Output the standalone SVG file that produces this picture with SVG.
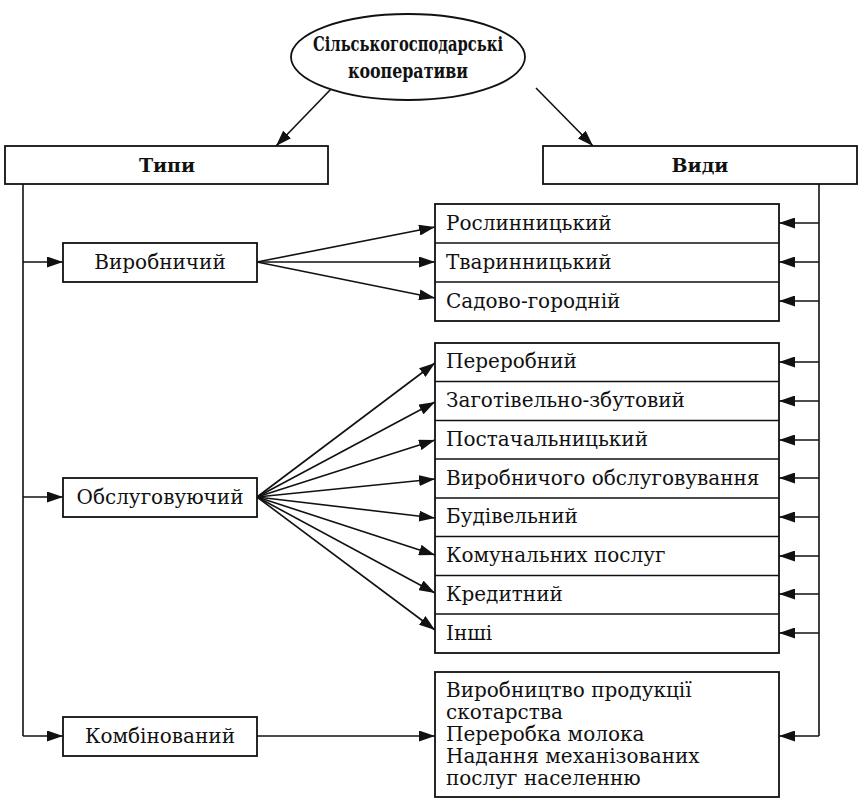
<svg xmlns="http://www.w3.org/2000/svg" width="860" height="801" viewBox="0 0 860 801">
  <style>
    .box { fill: #fff; stroke: #111; stroke-width: 1.8; }
    .ln { fill: none; stroke: #111; stroke-width: 1.6; }
    .t { font-family: "DejaVu Serif", "Liberation Serif", serif; font-size: 20px; fill: #111; }
    .b { font-family: "DejaVu Serif", "Liberation Serif", serif; font-size: 19px; font-weight: bold; fill: #111; }
    .h { font-family: "DejaVu Serif", "Liberation Serif", serif; font-size: 21px; font-weight: bold; fill: #111; }
  </style>
  <defs>
    <marker id="arr" viewBox="0 0 16 11" markerUnits="userSpaceOnUse" markerWidth="16" markerHeight="11" refX="16" refY="5.5" orient="auto">
      <path d="M0,0 L16,5.5 L0,11 z" fill="#111"/>
    </marker>
  </defs>
  <rect width="860" height="801" fill="#fff"/>

  <!-- connectors -->
  <g id="connectors" class="ln" marker-end="url(#arr)">
    <!-- root to categories -->
    <line x1="332" y1="88" x2="276" y2="146"/>
    <line x1="536" y1="88" x2="593" y2="146"/>
    <!-- left spine -->
    <line x1="23" y1="184" x2="23" y2="736" marker-end="none"/>
    <line x1="23" y1="262" x2="63" y2="262"/>
    <line x1="23" y1="497" x2="63" y2="497"/>
    <line x1="23" y1="736" x2="63" y2="736"/>
    <!-- right spine -->
    <line x1="819" y1="184" x2="819" y2="736" marker-end="none"/>
    <line x1="819" y1="223" x2="779" y2="223"/>
    <line x1="819" y1="262" x2="779" y2="262"/>
    <line x1="819" y1="301" x2="779" y2="301"/>
    <line x1="819" y1="362" x2="779" y2="362"/>
    <line x1="819" y1="401" x2="779" y2="401"/>
    <line x1="819" y1="440" x2="779" y2="440"/>
    <line x1="819" y1="478" x2="779" y2="478"/>
    <line x1="819" y1="517" x2="779" y2="517"/>
    <line x1="819" y1="556" x2="779" y2="556"/>
    <line x1="819" y1="594" x2="779" y2="594"/>
    <line x1="819" y1="633" x2="779" y2="633"/>
    <line x1="819" y1="736" x2="779" y2="736"/>
    <!-- production fan -->
    <line x1="257" y1="262" x2="435" y2="227"/>
    <line x1="257" y1="262" x2="435" y2="262"/>
    <line x1="257" y1="262" x2="435" y2="298"/>
    <!-- service fan -->
    <line x1="257" y1="497" x2="435" y2="363"/>
    <line x1="257" y1="497" x2="435" y2="402"/>
    <line x1="257" y1="497" x2="435" y2="440"/>
    <line x1="257" y1="497" x2="435" y2="479"/>
    <line x1="257" y1="497" x2="435" y2="518"/>
    <line x1="257" y1="497" x2="435" y2="555"/>
    <line x1="257" y1="497" x2="435" y2="593"/>
    <line x1="257" y1="497" x2="435" y2="630"/>
    <!-- combined -->
    <line x1="257" y1="736" x2="435" y2="736"/>
  </g>

  <g id="root">
    <ellipse class="box" cx="408" cy="57" rx="117" ry="43"/>
    <text class="h" x="408" y="51" text-anchor="middle" textLength="190" lengthAdjust="spacingAndGlyphs">Сільськогосподарські</text>
    <text class="h" x="408" y="78" text-anchor="middle" textLength="120" lengthAdjust="spacingAndGlyphs">кооперативи</text>
  </g>

  <g id="types">
    <rect class="box" x="5" y="146" width="323" height="38"/>
    <text class="b" x="167" y="172" text-anchor="middle">Типи</text>
  </g>
  <g id="kinds">
    <rect class="box" x="543" y="146" width="314" height="38"/>
    <text class="b" x="700" y="172" text-anchor="middle">Види</text>
  </g>

  <g id="production">
    <rect class="box" x="63" y="243" width="194" height="39"/>
    <text class="t" x="160" y="269" text-anchor="middle">Виробничий</text>
  </g>
  <g id="service">
    <rect class="box" x="63" y="478" width="194" height="39"/>
    <text class="t" x="160" y="504" text-anchor="middle">Обслуговуючий</text>
  </g>
  <g id="combined">
    <rect class="box" x="63" y="717" width="194" height="39"/>
    <text class="t" x="160" y="743" text-anchor="middle">Комбінований</text>
  </g>

  <g id="kinds-production">
    <rect class="box" x="435" y="204" width="344" height="117"/>
    <line class="ln" x1="435" y1="243" x2="779" y2="243"/>
    <line class="ln" x1="435" y1="282" x2="779" y2="282"/>
    <text class="t" x="446" y="230">Рослинницький</text>
    <text class="t" x="446" y="269">Тваринницький</text>
    <text class="t" x="446" y="308">Садово-городній</text>
  </g>

  <g id="kinds-service">
    <rect class="box" x="435" y="343" width="344" height="310"/>
    <line class="ln" x1="435" y1="381.5" x2="779" y2="381.5"/>
    <line class="ln" x1="435" y1="420.5" x2="779" y2="420.5"/>
    <line class="ln" x1="435" y1="459" x2="779" y2="459"/>
    <line class="ln" x1="435" y1="498" x2="779" y2="498"/>
    <line class="ln" x1="435" y1="536.5" x2="779" y2="536.5"/>
    <line class="ln" x1="435" y1="575.5" x2="779" y2="575.5"/>
    <line class="ln" x1="435" y1="614" x2="779" y2="614"/>
    <text class="t" x="446" y="368">Переробний</text>
    <text class="t" x="446" y="407">Заготівельно-збутовий</text>
    <text class="t" x="446" y="446">Постачальницький</text>
    <text class="t" x="446" y="485">Виробничого обслуговування</text>
    <text class="t" x="446" y="523">Будівельний</text>
    <text class="t" x="446" y="562">Комунальних послуг</text>
    <text class="t" x="446" y="601">Кредитний</text>
    <text class="t" x="446" y="640">Інші</text>
  </g>

  <g id="kinds-combined">
    <rect class="box" x="435" y="672" width="344" height="125"/>
    <text class="t" x="446" y="697">Виробництво продукції</text>
    <text class="t" x="446" y="719">скотарства</text>
    <text class="t" x="446" y="741">Переробка молока</text>
    <text class="t" x="446" y="763">Надання механізованих</text>
    <text class="t" x="446" y="785">послуг населенню</text>
  </g>
</svg>
